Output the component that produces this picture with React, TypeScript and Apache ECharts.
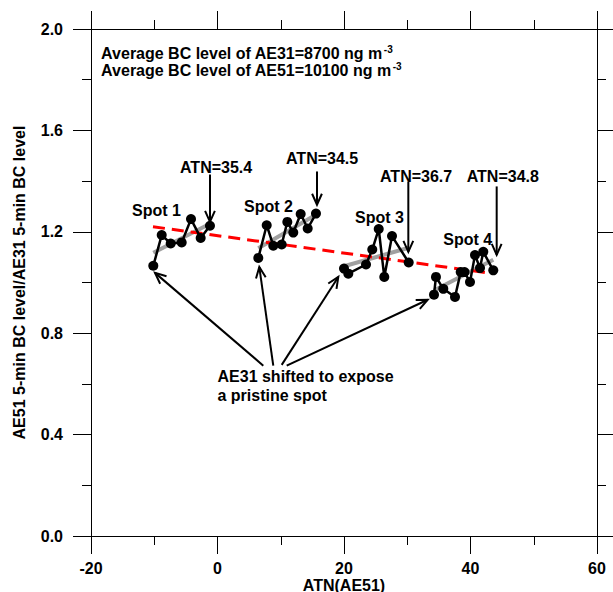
import React, { useEffect, useRef } from "react";
import * as echarts from "echarts";

// ---- data ----
const spot1X = [-10.15, -8.82, -7.4, -5.66, -4.19, -2.66, -1.19];
const spot1Y = [1.066, 1.187, 1.154, 1.158, 1.25, 1.176, 1.224];
const spot2X = [6.45, 7.78, 8.82, 10.15, 11.04, 11.98, 13.15, 14.26, 15.57];
const spot2Y = [1.097, 1.226, 1.145, 1.15, 1.239, 1.197, 1.27, 1.213, 1.272];
const spot3X = [20.0, 20.68, 23.48, 24.47, 25.49, 26.37, 27.59, 30.23];
const spot3Y = [1.055, 1.035, 1.071, 1.13, 1.211, 1.022, 1.183, 1.079];
const spot4X = [34.23, 34.54, 35.7, 37.55, 38.45, 39.05, 39.92, 40.71, 41.5, 42.02, 43.6];
const spot4Y = [0.952, 1.022, 0.975, 0.943, 1.041, 1.041, 1.002, 1.108, 1.057, 1.121, 1.048];

// overall trend (red dashed)
const trendX = [-10.2, 43.6];
const trendY = [1.22, 1.035];

const xTicks = [-20, 0, 20, 40, 60];
const yTicks = [0, 0.4, 0.8, 1.2, 1.6, 2.0];

// annotation arrows [fromX, fromY, toX, toY]
const arrowFromX = [-1.19, 15.73, 30.17, 44.14, 7.24, 8.82, 10.15, 10.94];
const arrowFromY = [1.426, 1.438, 1.398, 1.379, 0.672, 0.672, 0.675, 0.672];
const arrowToX = [-1.19, 15.73, 30.17, 44.14, -9.88, 6.61, 19.1, 33.23];
const arrowToY = [1.239, 1.307, 1.121, 1.109, 1.038, 1.061, 1.022, 0.932];

// annotation texts anchored at (x, y) in data space (left edge, vertical middle)
const labelTexts = [
  "Spot 1", "Spot 2", "Spot 3", "Spot 4",
  "ATN=35.4", "ATN=34.5", "ATN=36.7", "ATN=34.8",
  "AE31 shifted to expose", "a pristine spot",
];
const labelX = [-13.52, 4.19, 21.74, 35.7, -5.93, 10.83, 25.69, 39.4, 0.0, 0.0];
const labelY = [1.283, 1.299, 1.256, 1.171, 1.454, 1.489, 1.418, 1.418, 0.63, 0.556];

const avgTexts = ["Average BC level of AE31=8700 ng m", "Average BC level of AE51=10100 ng m"];
const avgSup = ["-3", "-3"];
const avgX = [-18.4, -18.4];
const avgY = [1.905, 1.838];

const FONT = "'Liberation Sans', Arial, Helvetica, sans-serif";

function regression(xs: number[], ys: number[]) {
  const n = xs.length;
  const mx = xs.reduce((a, b) => a + b, 0) / n;
  const my = ys.reduce((a, b) => a + b, 0) / n;
  let sxy = 0, sxx = 0;
  for (let i = 0; i < n; i++) {
    sxy += (xs[i] - mx) * (ys[i] - my);
    sxx += (xs[i] - mx) * (xs[i] - mx);
  }
  const k = sxy / sxx;
  const x0 = Math.min(...xs), x1 = Math.max(...xs);
  return [[x0, my + k * (x0 - mx)], [x1, my + k * (x1 - mx)]];
}

const zip = (xs: number[], ys: number[]) => xs.map((x, i) => [x, ys[i]]);

export default function App() {
  const ref = useRef<HTMLDivElement>(null);
  useEffect(() => {
    document.body.style.margin = "0";
    if (!ref.current) return;
    const chart = echarts.init(ref.current, null, { renderer: "svg" });
    const spots = [
      [spot1X, spot1Y],
      [spot2X, spot2Y],
      [spot3X, spot3Y],
      [spot4X, spot4Y],
    ];
    const axisCommon = {
      axisLine: { show: true, onZero: false, lineStyle: { color: "#000", width: 1 } },
      axisTick: { show: true, inside: false, length: 18, lineStyle: { color: "#000", width: 1 } },
      minorTick: { show: true, splitNumber: 2, length: 9, lineStyle: { color: "#000", width: 1 } },
      splitLine: { show: false },
      minorSplitLine: { show: false },
    };
    const labelStyle = { color: "#000", fontSize: 16, fontWeight: "bold", fontFamily: FONT };

    const series: any[] = [];
    spots.forEach(([xs, ys]) => {
      series.push({
        type: "line",
        data: regression(xs as number[], ys as number[]),
        symbol: "none",
        lineStyle: { color: "#a0a0a0", width: 4 },
        z: 2,
        silent: true,
      });
    });
    series.push({
      type: "line",
      data: zip(trendX, trendY),
      symbol: "none",
      lineStyle: { color: "#ff0000", width: 3, type: [12, 7] },
      z: 3,
      silent: true,
    });
    spots.forEach(([xs, ys]) => {
      series.push({
        type: "line",
        data: zip(xs as number[], ys as number[]),
        symbol: "circle",
        symbolSize: 10,
        itemStyle: { color: "#000" },
        lineStyle: { color: "#000", width: 2.5 },
        z: 4,
        silent: true,
      });
    });
    series.push({
      type: "custom",
      silent: true,
      z: 5,
      clip: false,
      dimensions: ["x1", "y1", "x2", "y2"],
      encode: { x: [0, 2], y: [1, 3] },
      data: arrowFromX.map((x, i) => [x, arrowFromY[i], arrowToX[i], arrowToY[i]]),
      renderItem: (params: any, api: any) => {
        const a = api.coord([api.value(0), api.value(1)]);
        const b = api.coord([api.value(2), api.value(3)]);
        const ang = Math.atan2(b[1] - a[1], b[0] - a[0]);
        const L = 12, w = 0.42;
        const p1 = [b[0] - L * Math.cos(ang - w), b[1] - L * Math.sin(ang - w)];
        const p2 = [b[0] - L * Math.cos(ang + w), b[1] - L * Math.sin(ang + w)];
        return {
          type: "group",
          children: [
            { type: "line", shape: { x1: a[0], y1: a[1], x2: b[0], y2: b[1] }, style: { stroke: "#000", lineWidth: 2 } },
            { type: "polyline", shape: { points: [p1, b, p2] }, style: { stroke: "#000", lineWidth: 2, fill: null } },
          ],
        };
      },
    });
    series.push({
      type: "custom",
      silent: true,
      z: 6,
      clip: false,
      data: zip(labelX, labelY),
      renderItem: (params: any, api: any) => {
        const p = api.coord([api.value(0), api.value(1)]);
        return {
          type: "text",
          x: p[0],
          y: p[1],
          style: {
            text: labelTexts[params.dataIndex],
            fill: "#000",
            fontSize: 16,
            fontWeight: "bold",
            fontFamily: FONT,
            align: "left",
            verticalAlign: "middle",
          },
        };
      },
    });
    series.push({
      type: "custom",
      silent: true,
      z: 6,
      clip: false,
      data: zip(avgX, avgY),
      renderItem: (params: any, api: any) => {
        const p = api.coord([api.value(0), api.value(1)]);
        const i = params.dataIndex;
        return {
          type: "text",
          x: p[0],
          y: p[1],
          style: {
            text: "{n|" + avgTexts[i] + "}{s|" + avgSup[i] + "}",
            fill: "#000",
            align: "left",
            verticalAlign: "middle",
            rich: {
              n: { fontSize: 16, fontWeight: "bold", fontFamily: FONT, fill: "#000", lineHeight: 18 },
              s: { fontSize: 10, fontWeight: "bold", fontFamily: FONT, fill: "#000", verticalAlign: "top", lineHeight: 18, padding: [0, 0, 0, 1] },
            },
          },
        };
      },
    });

    chart.setOption({
      animation: false,
      backgroundColor: "#fff",
      grid: { left: 91, right: 16, top: 29, bottom: 56, containLabel: false, outerBoundsMode: "none" },
      xAxis: [
        {
          type: "value",
          position: "bottom",
          min: -20,
          max: 60,
          interval: 20,
          ...axisCommon,
          axisLabel: { ...labelStyle, margin: 24, customValues: xTicks },
          name: "ATN(AE51)",
          nameLocation: "middle",
          nameGap: 41,
          nameMoveOverlap: false,
          nameTextStyle: { ...labelStyle },
        },
        {
          type: "value",
          position: "top",
          min: -20,
          max: 60,
          interval: 20,
          ...axisCommon,
          axisLabel: { show: false },
        },
      ],
      yAxis: [
        {
          type: "value",
          position: "left",
          min: 0,
          max: 2,
          interval: 0.4,
          ...axisCommon,
          axisLabel: { ...labelStyle, margin: 28, formatter: (v: number) => v.toFixed(1) },
          name: "AE51 5-min BC level/AE31 5-min BC level",
          nameLocation: "middle",
          nameGap: 64,
          nameMoveOverlap: false,
          nameTextStyle: { ...labelStyle },
        },
        {
          type: "value",
          position: "right",
          min: 0,
          max: 2,
          interval: 0.4,
          ...axisCommon,
          axisLabel: { show: false },
        },
      ],
      series,
    });
    return () => chart.dispose();
  }, []);
  return <div ref={ref} style={{ width: 613, height: 592 }} />;
}
